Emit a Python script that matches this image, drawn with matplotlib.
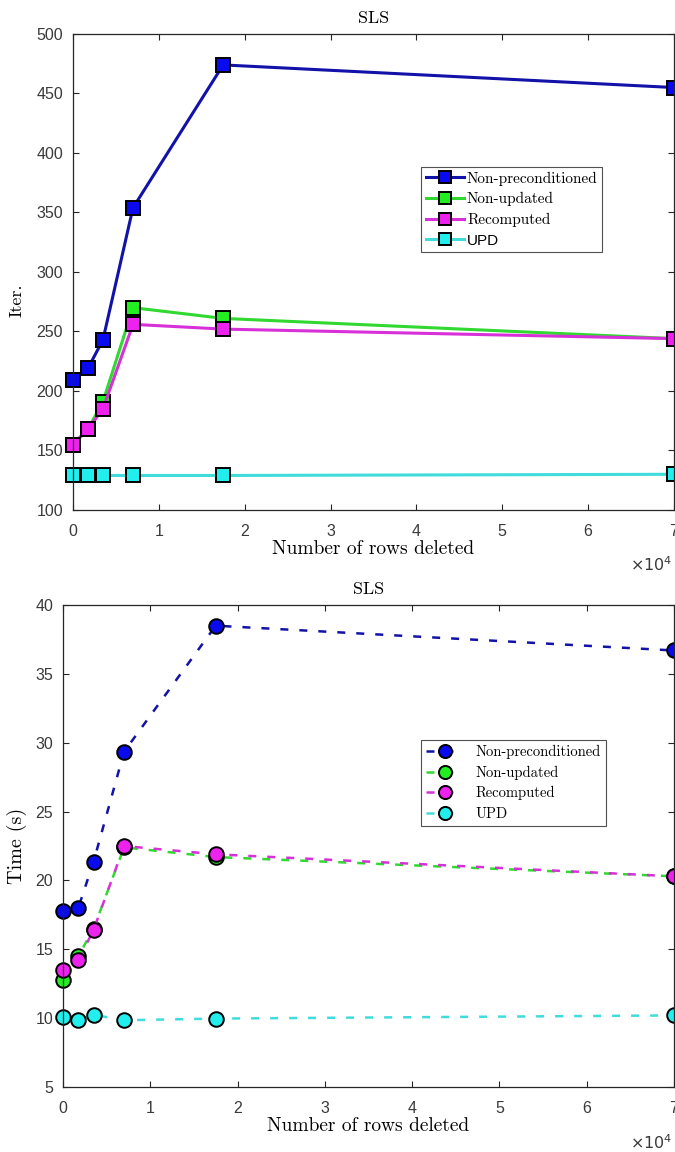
import matplotlib
matplotlib.use("Agg")
import matplotlib.pyplot as plt
from matplotlib.ticker import FuncFormatter

# rows deleted (x) and the four solver variants
rows_deleted = [0, 1750, 3500, 7000, 17500, 70000]
labels = ["Non-preconditioned", "Non-updated", "Recomputed", "UPD"]

iter_nonprec = [209, 219, 243, 354, 474, 455]
iter_nonupd = [155, 168, 191, 270, 261, 244]
iter_recomp = [155, 168, 185, 256, 252, 244]
iter_upd = [129, 129, 129, 129, 129, 130]

time_nonprec = [17.8, 18.0, 21.35, 29.35, 38.5, 36.7]
time_nonupd = [12.8, 14.5, 16.5, 22.4, 21.7, 20.3]
time_recomp = [13.5, 14.2, 16.4, 22.5, 21.9, 20.3]
time_upd = [10.1, 9.85, 10.25, 9.85, 9.97, 10.2]

line_cols = ["#1212a8", "#30d830", "#d830d8", "#40dcdc"]
face_cols = ["#0a0aee", "#22ee22", "#ee22ee", "#22eeee"]

serif = ["cmr10", "DejaVu Serif"]
sans = ["Liberation Sans", "DejaVu Sans"]
axis_col = "#262626"

fig = plt.figure(figsize=(6.75, 11.52), dpi=100)
ax1 = fig.add_axes([0.108, 0.5573, 0.8905, 0.4132])
ax2 = fig.add_axes([0.0933, 0.0564, 0.9052, 0.4184])


def style_axes(ax, ylim, yticks, ylabel, ylabel_size, ylabel_xy):
    ax.set_xlim(0, 70000)
    ax.set_ylim(*ylim)
    ax.set_xticks(range(0, 70001, 10000))
    ax.set_yticks(yticks)
    ax.xaxis.set_major_formatter(FuncFormatter(lambda v, p: "%d" % round(v / 1e4)))
    ax.tick_params(direction="in", top=True, right=True, length=4, width=0.8,
                   colors=axis_col, labelsize=11.5)
    ax.tick_params(axis="x", pad=10)
    ax.tick_params(axis="y", pad=7)
    for lab in ax.get_xticklabels() + ax.get_yticklabels():
        lab.set_family(sans)
        lab.set_color("#3a3a3a")
    for sp in ax.spines.values():
        sp.set_color(axis_col)
        sp.set_linewidth(0.9)
    ax.set_title("SLS", family=serif, fontsize=13, pad=8)
    ax.set_xlabel("Number of rows deleted", family=serif, fontsize=14, labelpad=1)
    ax.set_ylabel(ylabel, family=serif, fontsize=ylabel_size, va="center")
    ax.yaxis.set_label_coords(*ylabel_xy)
    ax.text(0.997, -0.115, r"$\times10^4$", transform=ax.transAxes, ha="right",
            va="center", fontsize=11.5, color="#3a3a3a")


# iterations: solid lines, square markers
iters = [iter_nonprec, iter_nonupd, iter_recomp, iter_upd]
for vals, lab, lc, fc in zip(iters, labels, line_cols, face_cols):
    ax1.plot(rows_deleted, vals, "-", color=lc, lw=2.2, marker="s", ms=10,
             mfc=fc, mec="black", mew=1.4, label=lab, clip_on=False)
style_axes(ax1, (100, 500), range(100, 501, 50), "Iter.", 13, (-0.093, 0.44))
leg1 = ax1.legend(loc="upper left", bbox_to_anchor=(0.624, 0.855),
                  bbox_transform=fig.transFigure, fontsize=11, frameon=True,
                  fancybox=False, edgecolor=axis_col, borderpad=0.3,
                  labelspacing=0.42, handlelength=2.5, handletextpad=0.2,
                  borderaxespad=0, markerscale=0.9)
leg1.get_frame().set_linewidth(0.8)
for i, t in enumerate(leg1.get_texts()):
    t.set_family(sans if i == 3 else serif)

# timings: dashed lines, circle markers
times = [time_nonprec, time_nonupd, time_recomp, time_upd]
for vals, lab, lc, fc in zip(times, labels, line_cols, face_cols):
    ax2.plot(rows_deleted, vals, color=lc, lw=1.8, ls=(0, (3.2, 4.4)), marker="o",
             ms=10.5, mfc=fc, mec="black", mew=1.4, label=lab, clip_on=False)
style_axes(ax2, (5, 40), range(5, 41, 5), "Time (s)", 14.5, (-0.075, 0.5))
leg2 = ax2.legend(loc="upper left", bbox_to_anchor=(0.624, 0.358),
                  bbox_transform=fig.transFigure, fontsize=10.5, frameon=True,
                  fancybox=False, edgecolor=axis_col, borderpad=0.35,
                  labelspacing=0.45, handlelength=2.5, handletextpad=0.9,
                  borderaxespad=0, markerscale=0.9)
leg2.get_frame().set_linewidth(0.8)
for t in leg2.get_texts():
    t.set_family(serif)

fig.savefig("out.png", dpi=100)
